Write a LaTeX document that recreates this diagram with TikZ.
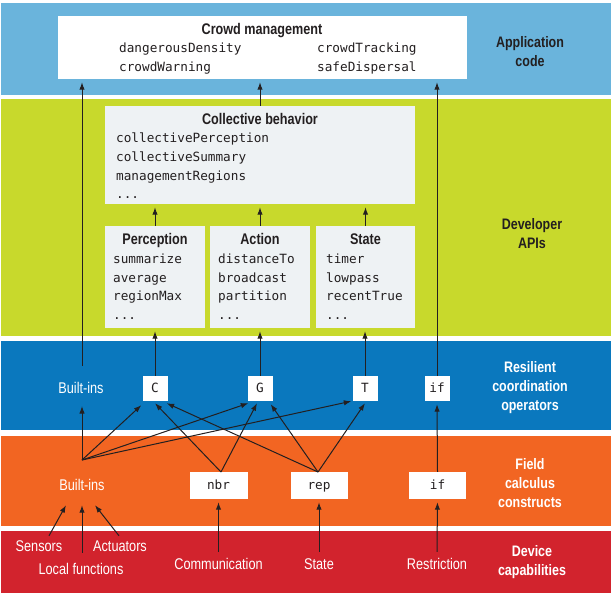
\documentclass[tikz,border=0pt]{standalone}
\usepackage{fontspec}
\newfontfamily\cond[FakeStretch=0.82]{Liberation Sans}
\newfontfamily\monof{DejaVu Sans Mono}
\usetikzlibrary{arrows.meta,calc}
\definecolor{appblue}{HTML}{6AB4DC}
\definecolor{apigreen}{HTML}{C8D92C}
\definecolor{opblue}{HTML}{0A78BE}
\definecolor{fcorange}{HTML}{F26522}
\definecolor{devred}{HTML}{D2232D}
\definecolor{boxgrey}{HTML}{EEF2F4}
\definecolor{ink}{HTML}{231F20}
\begin{document}
\begin{tikzpicture}[x=1pt,y=-1pt,
  wbox/.style={fill=white,draw=none,inner sep=0,minimum height=25pt,minimum width=25pt},
  gbox/.style={fill=boxgrey,draw=none,inner sep=0},
  mono/.style={font=\monof\fontsize{12.7}{15}\selectfont,text=ink,inner sep=0,text height=9.5pt,text depth=2.5pt},
  ttl/.style={font=\cond\bfseries\fontsize{15.4}{17}\selectfont,text=ink,inner sep=0,text height=11pt,text depth=3pt},
  lbl/.style={font=\cond\fontsize{15.5}{17}\selectfont,text=white,inner sep=0,text height=11pt,text depth=3pt},
  side/.style={font=\cond\bfseries\fontsize{15.2}{19}\selectfont,align=center,inner sep=0},
  arr/.style={-{Latex[length=7.5pt,width=5.4pt]},line width=1pt,draw=ink,shorten >=3pt},
  arrd/.style={-{Latex[length=7.5pt,width=5.4pt]},line width=1pt,draw=ink}]
\useasboundingbox (0,0) rectangle (612,596);
% bands
\fill[appblue] (1,3) rectangle (611,95);
\fill[apigreen] (1,99) rectangle (611,336);
\fill[opblue] (1,341) rectangle (611,430);
\fill[fcorange] (1,436) rectangle (611,526);
\fill[devred] (1,531) rectangle (611,593);
% side labels
\node[side,text=ink] (lapp) at (530,52) {Application\\code};
\node[side,text=ink] (lapi) at (532,234) {Developer\\APIs};
\node[side,text=white] (lop) at (530,388) {Resilient\\coordination\\operators};
\node[side,text=white] (lfc) at (530,483) {Field\\calculus\\constructs};
\node[side,text=white] (ldev) at (532,562) {Device\\capabilities};
% crowd management
\node[fill=white,inner sep=0,minimum width=409pt,minimum height=63pt] (crowd) at (262.5,47.5) {};
\node[ttl] (crowdt) at (262,31) {Crowd management};
\node[mono,anchor=west] (cm1) at (119,49) {dangerousDensity};
\node[mono,anchor=west] (cm2) at (119,68) {crowdWarning};
\node[mono,anchor=west] (cm3) at (317,49) {crowdTracking};
\node[mono,anchor=west] (cm4) at (317,68) {safeDispersal};
% collective behavior
\node[gbox,minimum width=310pt,minimum height=98pt] (coll) at (260,155) {};
\node[ttl] (collt) at (260,121) {Collective behavior};
\node[mono,anchor=west] (cb1) at (116,139) {collectivePerception};
\node[mono,anchor=west] (cb2) at (116,158) {collectiveSummary};
\node[mono,anchor=west] (cb3) at (116,177) {managementRegions};
\node[mono,anchor=west] (cb4) at (116,195) {...};
% APIs
\node[gbox,minimum width=100pt,minimum height=102pt] (perc) at (155,277) {};
\node[gbox,minimum width=100pt,minimum height=102pt] (act) at (260,277) {};
\node[gbox,minimum width=99pt,minimum height=102pt] (stat) at (365.5,277) {};
\node[ttl] (perct) at (155,240) {Perception};
\node[ttl] (actt) at (260,240) {Action};
\node[ttl] (statt) at (365.5,240) {State};
\node[mono,anchor=west] (p1) at (113,260) {summarize};
\node[mono,anchor=west] (p2) at (113,279) {average};
\node[mono,anchor=west] (p3) at (113,297) {regionMax};
\node[mono,anchor=west] (p4) at (113,316) {...};
\node[mono,anchor=west] (a1) at (218,260) {distanceTo};
\node[mono,anchor=west] (a2) at (218,279) {broadcast};
\node[mono,anchor=west] (a3) at (218,297) {partition};
\node[mono,anchor=west] (a4) at (218,316) {...};
\node[mono,anchor=west] (s1) at (326,260) {timer};
\node[mono,anchor=west] (s2) at (326,279) {lowpass};
\node[mono,anchor=west] (s3) at (326,297) {recentTrue};
\node[mono,anchor=west] (s4) at (326,316) {...};
% operators
\node[lbl] (bi1) at (81,389) {Built-ins};
\node[wbox,mono] (C) at (155,388.5) {C};
\node[wbox,mono] (G) at (260,388.5) {G};
\node[wbox,mono] (T) at (365,388.5) {T};
\node[wbox,mono] (ifb) at (437,388.5) {if};
% field calculus
\node[lbl] (bi2) at (82,486) {Built-ins};
\node[wbox,mono,minimum width=58pt,minimum height=27pt] (nbr) at (218.5,485.5) {nbr};
\node[wbox,mono,minimum width=57pt,minimum height=27pt] (rep) at (319,485.5) {rep};
\node[wbox,mono,minimum width=57pt,minimum height=27pt] (ifo) at (437.5,485.5) {if};
% device
\node[lbl] (sens) at (39,547) {Sensors};
\node[lbl] (actu) at (120,547) {Actuators};
\node[lbl] (loc) at (81,570) {Local functions};
\node[lbl] (comm) at (218.5,565) {Communication};
\node[lbl] (stt) at (319,565) {State};
\node[lbl] (restr) at (437,565) {Restriction};
% coordinates
\coordinate (bitop) at (82,366);
\coordinate (bibelow) at (82,406);
\coordinate (biapex) at (82,460);
\coordinate (nbrtop) at (221,472);
\coordinate (reptop) at (318,472);
% arrows upper
\draw[arr] (coll.north) -- (coll.north |- crowd.south);
\draw[arr] (bitop) -- (bitop |- crowd.south);
\draw[arr] (ifb.north) -- (ifb.north |- crowd.south);
\draw[arr] (perc.north) -- (perc.north |- coll.south);
\draw[arr] (act.north) -- (act.north |- coll.south);
\draw[arr] (stat.north) -- (stat.north |- coll.south);
\draw[arr] (C.north) -- (C.north |- perc.south);
\draw[arr] (G.north) -- (G.north |- act.south);
\draw[arr] (T.north) -- (T.north |- stat.south);
% arrows field calculus -> operators
\draw[arrd] (biapex) -- (bibelow);
\draw[arrd] (biapex) -- ($(C.south west)+(-1,4)$);
\draw[arrd] (biapex) -- ($(G.south west)+(1,2)$);
\draw[arrd] (biapex) -- ($(T.south west)+(-1,0)$);
\draw[arrd] (nbrtop) -- ($(C.south)+(0,2)$);
\draw[arrd] (nbrtop) -- ($(G.south)+(-3,2)$);
\draw[arrd] (reptop) -- ($(C.south east)+(-1,2)$);
\draw[arrd] (reptop) -- ($(G.south east)+(-2,3)$);
\draw[arrd] (reptop) -- ($(T.south)+(0,2)$);
\draw[arr] (ifo.north) -- (ifb.south);
% arrows device -> field calculus
\draw[arrd] ($(sens.north)+(10,-4)$) -- ($(bi2.south)+(-16,12)$);
\draw[arrd] ($(loc.north)+(1,-10)$) -- ($(bi2.south)+(0,12)$);
\draw[arrd] ($(actu.north)+(-1,-4)$) -- ($(bi2.south)+(13,12)$);
\draw[arr] ($(comm.north)+(0,-6)$) -- (nbr.south);
\draw[arr] ($(stt.north)+(0,-6)$) -- (rep.south);
\draw[arr] ($(restr.north)+(0,-6)$) -- (ifo.south);
\end{tikzpicture}
\end{document}
